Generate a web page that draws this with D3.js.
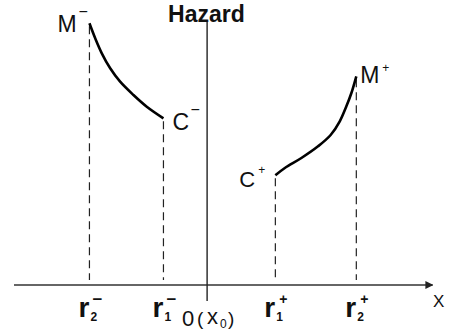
<!DOCTYPE html>
<html>
<head>
<meta charset="utf-8">
<script src="https://cdn.jsdelivr.net/npm/d3@7"></script>
<style>
  body { margin: 0; background: #fff; }
  svg { font-family: "Liberation Sans", Arial, sans-serif; }
</style>
</head>
<body>
<div id="chart"></div>
<script>
// hazard curve on the negative side (M- down to C-)
const leftX = [-9.81, -9.33, -8.78, -8.08, -7.25, -6.14, -5.03, -3.64]
const leftY = [26.17, 24.67, 23.17, 21.67, 20.33, 19.0, 17.83, 16.67]
// hazard curve on the positive side (C+ up to M+)
const rightX = [5.69, 6.48, 7.86, 9.25, 10.3, 11.06, 11.61, 12.03, 12.44]
const rightY = [10.97, 11.7, 12.7, 13.87, 15.0, 16.37, 17.87, 19.2, 20.87]
// marked positions on x axis
const rSub = ['2', '1', '1', '2']
const rSign = ['\u2212', '\u2212', '+', '+']
const rValues = [-9.81, -3.64, 5.69, 12.44]

const width = 451, height = 335

const svg = d3.select('#chart').append('svg')
  .attr('width', width)
  .attr('height', height)

const x = d3.scaleLinear().domain([-16.1, 18.5]).range([14, 429])
const y = d3.scaleLinear().domain([0, 28.5]).range([285, 0])

const left = leftX.map((d, i) => [d, leftY[i]])
const right = rightX.map((d, i) => [d, rightY[i]])

svg.append('defs').append('marker')
  .attr('id', 'arrow')
  .attr('viewBox', '0 0 10 10')
  .attr('refX', 9).attr('refY', 5)
  .attr('markerWidth', 8).attr('markerHeight', 8)
  .attr('markerUnits', 'userSpaceOnUse')
  .attr('orient', 'auto')
  .append('path').attr('d', 'M0,0L10,5L0,10z').attr('fill', '#222')

// x axis
svg.append('line')
  .attr('x1', x(-16.1)).attr('x2', x(18.8))
  .attr('y1', y(0)).attr('y2', y(0))
  .attr('stroke', '#333').attr('stroke-width', 1.6)
  .attr('marker-end', 'url(#arrow)')

// vertical hazard axis
svg.append('line')
  .attr('x1', x(0)).attr('x2', x(0))
  .attr('y1', y(26.3)).attr('y2', y(-1.6))
  .attr('stroke', '#222').attr('stroke-width', 1.4)

// dashed drop lines
const tops = [leftY[0], leftY[leftY.length - 1], rightY[0], rightY[rightY.length - 1]]
svg.selectAll('.drop').data(rValues).join('line')
  .attr('class', 'drop')
  .attr('x1', d => x(d)).attr('x2', d => x(d))
  .attr('y1', (d, i) => y(tops[i]) + 3).attr('y2', y(0.5))
  .attr('stroke', '#222').attr('stroke-width', 1.2)
  .attr('stroke-dasharray', '8,5')

const line = d3.line().x(d => x(d[0])).y(d => y(d[1])).curve(d3.curveCatmullRom)
svg.append('path').datum(left).attr('d', line)
  .attr('fill', 'none').attr('stroke', '#000').attr('stroke-width', 2.6)
svg.append('path').datum(right).attr('d', line)
  .attr('fill', 'none').attr('stroke', '#000').attr('stroke-width', 2.6)

function txt(s, tx, ty, size, weight) {
  return svg.append('text').text(s)
    .attr('x', tx).attr('y', ty)
    .attr('font-size', size).attr('font-weight', weight || 'normal')
    .attr('fill', '#111')
}

txt('Hazard', x(0) - 39, 22, 23, 'bold')

// end point labels
const mL = [x(leftX[0]), y(leftY[0])]
const cL = [x(leftX[leftX.length - 1]), y(leftY[leftY.length - 1])]
const cR = [x(rightX[0]), y(rightY[0])]
const mR = [x(rightX[rightX.length - 1]), y(rightY[rightY.length - 1])]

txt('M', mL[0] - 32, mL[1] + 9, 23)
txt('\u2212', mL[0] - 11, mL[1] - 6, 16)
txt('C', cL[0] + 9, cL[1] + 12, 23)
txt('\u2212', cL[0] + 27, cL[1] - 3, 16)
txt('C', cR[0] - 36, cR[1] + 12, 22)
txt('+', cR[0] - 17, cR[1] - 1, 12)
txt('M', mR[0] + 4, mR[1] + 7, 23)
txt('+', mR[0] + 26, mR[1] - 4, 12)

txt('X', 433, 307, 17)

// r labels: bold r with subscript and superscript
rValues.forEach((v, i) => {
  const cx = x(v) - 11
  txt('r', cx, 317, 28, 'bold')
  txt(rSub[i], cx + 12, 321, 12, 'bold')
  if (rSign[i] === '+') txt('+', cx + 15, 304, 14, 'bold')
  else txt('\u2212', cx + 14, 305, 17, 'bold')
})

// origin label 0(x0)
const ox = x(0)
const o = svg.append('text').attr('x', ox - 25).attr('y', 326).attr('fill', '#111')
o.append('tspan').text('0').attr('font-size', 22)
o.append('tspan').text('(').attr('font-size', 19).attr('x', ox - 10).attr('dy', -1)
o.append('tspan').text('x').attr('font-size', 22).attr('x', ox).attr('dy', -1)
o.append('tspan').text('0').attr('font-size', 12).attr('x', ox + 13).attr('dy', 4)
o.append('tspan').text(')').attr('font-size', 19).attr('x', ox + 21).attr('dy', -3)
</script>
</body>
</html>
